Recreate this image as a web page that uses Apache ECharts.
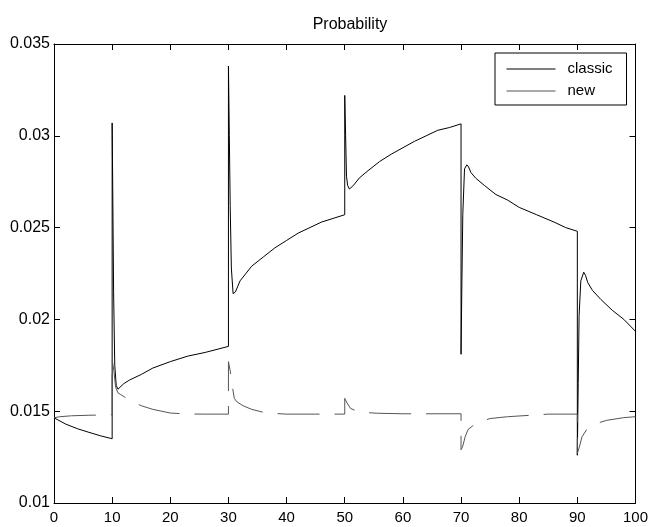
<!DOCTYPE html>
<html>
<head>
<meta charset="utf-8">
<title>Probability</title>
<script src="https://cdn.jsdelivr.net/npm/echarts@6/dist/echarts.min.js"></script>
<style>
  html, body { margin: 0; padding: 0; background: #fff; }
  #chart { width: 651px; height: 527px; }
</style>
</head>
<body>
<div id="chart"></div>
<script>
// classic
var classicX = [0, 2, 4, 6, 8, 10, 10, 10.1, 10.25, 10.45, 10.7, 11, 12, 13, 15, 17, 20, 23, 26, 30,
  30, 30.15, 30.3, 30.5, 30.8, 31.2, 32, 33, 34, 36, 38, 40, 42, 44, 46, 48, 50,
  50, 50.15, 50.3, 50.5, 50.8, 51.5, 52.5, 54, 56, 58, 60, 62, 64, 66, 68, 70,
  70, 70.15, 70.3, 70.6, 71, 71.3, 71.7, 72.5, 74, 76, 78, 80, 83, 86, 88, 90,
  90, 90.15, 90.3, 90.6, 91.1, 91.4, 91.8, 92.6, 94, 96, 98, 100]
var classicY = [0.01464, 0.0143, 0.01405, 0.01385, 0.01366, 0.0135, 0.0307, 0.0272, 0.0215, 0.0175, 0.0164, 0.0162, 0.0165, 0.0167, 0.017, 0.01735, 0.0177, 0.018, 0.0182, 0.01853,
  0.0338, 0.03, 0.0262, 0.0228, 0.0214, 0.0215, 0.0221, 0.0225, 0.0229, 0.0234, 0.0239, 0.0243, 0.0247, 0.025, 0.0253, 0.0255, 0.0257,
  0.0322, 0.03, 0.0278, 0.0273, 0.0271, 0.0273, 0.0277, 0.0281, 0.0286, 0.029, 0.02935, 0.0297, 0.03, 0.0303, 0.03045, 0.03065,
  0.0181, 0.0221, 0.0257, 0.0282, 0.02842, 0.0283, 0.028, 0.0277, 0.0273, 0.0268, 0.0265, 0.0261, 0.0257, 0.0253, 0.025, 0.0248,
  0.0126, 0.0165, 0.0202, 0.0221, 0.02257, 0.0224, 0.0220, 0.02158, 0.0211, 0.0205, 0.02, 0.01935]
// new
var newX = [0, 1, 3, 6, 10, 10, 10.3, 10.6, 11, 11.5, 12, 13, 14, 15, 17, 20, 23, 26, 30,
  30, 30.3, 30.6, 31, 31.5, 32.5, 34, 36.5, 40, 45, 50,
  50, 50.3, 51, 52.5, 55.5, 60, 65, 70,
  70, 70.3, 70.7, 71.2, 72, 73, 75, 78, 85, 90,
  90, 90.3, 90.8, 91.6, 93, 95, 98, 100]
var newY = [0.01464, 0.0147, 0.01475, 0.01478, 0.0148, 0.0178, 0.0172, 0.0163, 0.016, 0.0159, 0.0158, 0.0156, 0.01545, 0.0153, 0.0151, 0.0149, 0.01485, 0.01484, 0.01484,
  0.0177, 0.0172, 0.0165, 0.0157, 0.0155, 0.0153, 0.0151, 0.0149, 0.01484, 0.01484, 0.01484,
  0.0157, 0.0155, 0.01515, 0.01495, 0.01489, 0.01486, 0.01486, 0.01486,
  0.0129, 0.0131, 0.0136, 0.014, 0.0142, 0.0144, 0.0146, 0.0147, 0.01484, 0.01484,
  0.0127, 0.013, 0.0136, 0.014, 0.0143, 0.0145, 0.01465, 0.0147]
var xTicks = [0, 10, 20, 30, 40, 50, 60, 70, 80, 90, 100]
var yTicks = ['0.01', '0.015', '0.02', '0.025', '0.03', '0.035']

function pairs (xs, ys) {
  var out = []
  for (var i = 0; i < xs.length; i++) {
    out.push([xs[i], ys[i]])
  }
  return out
}

var font = 'Liberation Sans, Arial, Helvetica, sans-serif'
var axisCommon = {
  axisLine: { show: true, onZero: false, lineStyle: { color: '#000', width: 1 } },
  axisTick: { show: true, inside: true, length: 6, lineStyle: { color: '#000' } },
  splitLine: { show: false }
}

function xAxisOf (pos, labels) {
  return Object.assign({
    type: 'value', position: pos, min: 0, max: 100, interval: 10,
    axisLabel: { show: labels, color: '#000', fontSize: 15, fontFamily: font, margin: 7,
      formatter: function (v) { return xTicks.indexOf(v) >= 0 ? String(v) : '' } }
  }, axisCommon)
}
function yAxisOf (pos, labels) {
  return Object.assign({
    type: 'value', position: pos, min: 0.01, max: 0.035, interval: 0.005,
    axisLabel: { show: labels, color: '#000', fontSize: 16, fontFamily: font, margin: 4,
      formatter: function (v) { return yTicks[Math.round((v - 0.01) / 0.005)] } }
  }, axisCommon)
}

var chart = echarts.init(document.getElementById('chart'), null, { renderer: 'canvas' })
chart.setOption({
  animation: false,
  backgroundColor: '#fff',
  title: {
    text: 'Probability',
    left: 345,
    textAlign: 'center',
    top: 12,
    textStyle: { color: '#000', fontSize: 16, fontWeight: 'normal', fontFamily: font }
  },
  grid: { left: 54, right: 15, top: 44, bottom: 24 },
  legend: {
    orient: 'vertical',
    left: 495,
    top: 53,
    padding: [7, 14, 5, 11],
    itemWidth: 49,
    itemHeight: 18,
    itemGap: 4,
    itemStyle: { opacity: 0 },
    lineStyle: { type: 'solid', width: 1 },
    borderColor: '#000',
    borderWidth: 1,
    backgroundColor: '#fff',
    textStyle: { color: '#000', fontSize: 15, fontFamily: font, lineHeight: 18, padding: [0, 0, 0, 7] },
    data: ['classic', 'new']
  },
  xAxis: [xAxisOf('bottom', true), xAxisOf('top', false)],
  yAxis: [yAxisOf('left', true), yAxisOf('right', false)],
  series: [
    {
      name: 'classic',
      type: 'line',
      symbol: 'none',
      color: '#000',
      lineStyle: { color: '#000', width: 1 },
      data: pairs(classicX, classicY)
    },
    {
      name: 'new',
      type: 'line',
      symbol: 'none',
      color: '#555',
      lineStyle: { color: '#555', width: 1, type: [42, 15] },
      data: pairs(newX, newY)
    }
  ]
})
</script>
</body>
</html>
